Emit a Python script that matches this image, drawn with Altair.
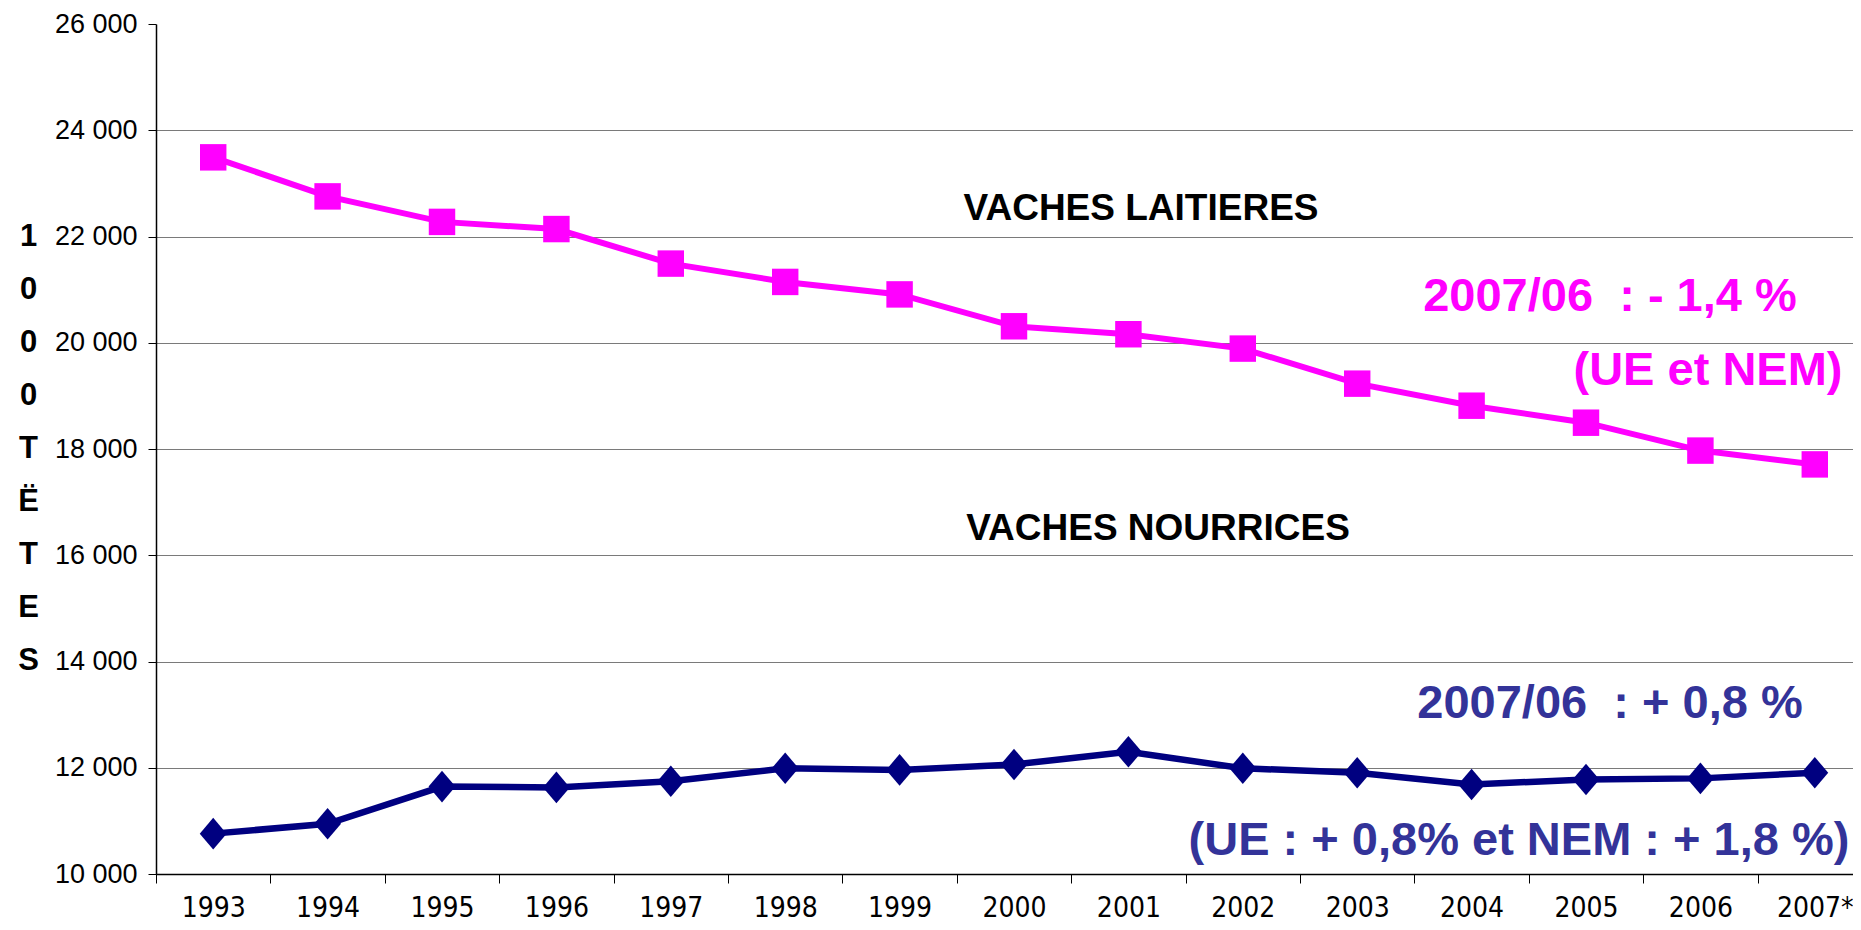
import altair as alt
import pandas as pd

years = ["1993", "1994", "1995", "1996", "1997", "1998", "1999", "2000",
         "2001", "2002", "2003", "2004", "2005", "2006", "2007*"]
laitieres = [23490, 22755, 22275, 22140, 21490, 21145, 20910, 20310,
             20160, 19890, 19230, 18815, 18495, 17970, 17710]
nourrices = [10760, 10945, 11645, 11630, 11745, 11990, 11960, 12060,
             12300, 11990, 11905, 11685, 11780, 11800, 11905]
y_ticks = [10000, 12000, 14000, 16000, 18000, 20000, 22000, 24000, 26000]
y_title = ["1", "0", "0", "0", " ", "T", "Ë", "T", "E", "S"]

label_laitieres = "VACHES LAITIERES"
label_nourrices = "VACHES NOURRICES"
note_lait_1 = "2007/06\u00a0 : - 1,4 %"
note_lait_2 = "(UE et NEM)"
note_nour_1 = "2007/06\u00a0 : + 0,8 %"
note_nour_2 = "(UE : + 0,8% et NEM : + 1,8 %)"

PINK = "#FF00FF"
NAVY = "#000080"
NAVY_TXT = "#333399"
FONT = "Liberation Sans"
NARROW = "Liberation Sans Narrow, Arial Narrow, DejaVu Sans Condensed, sans-serif"

df = pd.DataFrame({
    "annee": years * 2,
    "tetes": laitieres + nourrices,
    "serie": ["lait"] * len(years) + ["nour"] * len(years),
})

x_enc = alt.X(
    "annee:N", sort=years,
    scale=alt.Scale(type="band", range=[0, 1716], paddingInner=0, paddingOuter=0),
    axis=alt.Axis(title=None, labelAngle=0, tickBand="extent", grid=False,
                  labelFont=NARROW, labelFontSize=28, labelColor="black",
                  labelBaseline="alphabetic", labelPadding=33,
                  domainColor="black", domainWidth=1.5, tickColor="black",
                  tickSize=9, tickWidth=1),
)
y_enc = alt.Y(
    "tetes:Q",
    scale=alt.Scale(domain=[10000, 26000], nice=False, zero=False),
    axis=alt.Axis(values=y_ticks, title=y_title, titleAngle=0, titleAlign="center",
                  titleBaseline="alphabetic", titleX=-128, titleY=221,
                  titleFont=FONT, titleFontSize=31, titleFontWeight="bold",
                  titleLineHeight=53, titleColor="black",
                  labelExpr="replace(format(datum.value, ',d'), ',', ' ')",
                  labelFont=FONT, labelFontSize=27, labelColor="black",
                  labelPadding=11, tickSize=8, tickColor="black",
                  domainColor="black", domainWidth=1.5,
                  grid=True, gridColor="#7a7a7a", gridWidth=1.2,
                  gridOpacity=alt.condition("datum.value >= 26000", alt.value(0), alt.value(1))),
)

base = alt.Chart(df)
lait = base.transform_filter(alt.datum.serie == "lait")
nour = base.transform_filter(alt.datum.serie == "nour")

lait_line = lait.mark_line(color=PINK, strokeWidth=6).encode(x=x_enc, y=y_enc)
lait_pts = lait.mark_point(shape="square", filled=True, opacity=1, color=PINK, size=700).encode(x=x_enc, y=y_enc)
nour_line = nour.mark_line(color=NAVY, strokeWidth=6.5).encode(x=x_enc, y=y_enc)
nour_pts = nour.mark_point(shape="M-0.85,0L0,-1L0.85,0L0,1Z", filled=True, opacity=1,
                           color=NAVY, size=1000).encode(x=x_enc, y=y_enc)


def note(text, x, y, size, color):
    return alt.Chart(pd.DataFrame({"t": [text]})).mark_text(
        align="center", baseline="alphabetic", font=FONT, fontSize=size,
        fontWeight="bold", color=color
    ).encode(text="t:N", x=alt.value(x), y=alt.value(y))


notes = [
    note(label_laitieres, 985, 196, 37, "black"),
    note(label_nourrices, 1002, 516, 37, "black"),
    note(note_lait_1, 1454, 287, 47, PINK),
    note(note_lait_2, 1552, 361, 47, PINK),
    note(note_nour_1, 1454, 694, 47, NAVY_TXT),
    note(note_nour_2, 1363, 831, 47, NAVY_TXT),
]

chart = alt.layer(lait_line, nour_line, lait_pts, nour_pts, *notes).properties(
    width=1697, height=850,
    autosize=alt.AutoSizeParams(type="none"),
    padding={"left": 148, "top": 16, "right": 0, "bottom": 48},
    background="white",
).configure_view(stroke=None)

chart.save("out.html", embed_options={"renderer": "svg", "actions": False})
